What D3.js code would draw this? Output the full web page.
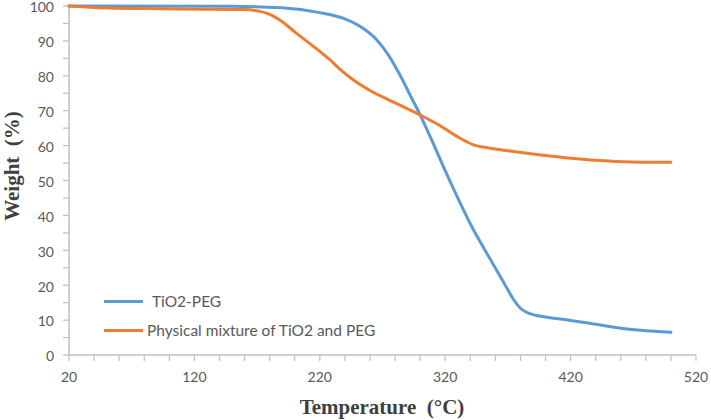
<!DOCTYPE html>
<html>
<head>
<meta charset="utf-8">
<script src="https://cdn.jsdelivr.net/npm/d3@7"></script>
<style>
  body { margin: 0; background: #fff; }
  svg { display: block; }
</style>
</head>
<body>
<svg id="chart" width="711" height="420"></svg>
<script>
// TGA curves, values
const tempPeg = [20, 150, 190, 220, 240, 255, 265, 275, 285, 292, 300, 310, 320, 330, 340, 356, 366, 374, 380, 385, 392, 400, 420, 440, 467, 500];
const weightPeg = [100, 99.9, 99.5, 98.1, 96.3, 93.5, 90.5, 85.8, 79.5, 74.5, 68.8, 61, 52.8, 45, 37.6, 27.4, 21.2, 16.2, 13.4, 12.2, 11.4, 10.9, 9.9, 8.8, 7.4, 6.5];

const tempMix = [20, 40, 90, 160, 170, 180, 190, 200, 210, 220, 228, 236, 246, 260, 278, 300, 316, 330, 342, 355, 370, 396, 436, 462, 500];
const weightMix = [100, 99.6, 99.2, 99.0, 98.6, 97.6, 95.5, 92.6, 89.8, 87, 84.6, 81.9, 79, 75.8, 72.6, 68.8, 65.7, 62.5, 60.3, 59.3, 58.5, 57.3, 55.9, 55.4, 55.2];

const seriesNames = ["TiO2-PEG", "Physical mixture of TiO2 and PEG"];
const seriesColors = ["#5b9bd5", "#ed7d31"];

const xTicks = [20, 120, 220, 320, 420, 520];
const yTicks = [0, 10, 20, 30, 40, 50, 60, 70, 80, 90, 100];

const svg = d3.select("#chart");
const plot = { left: 69, right: 696, top: 6, bottom: 355 };

const x = d3.scaleLinear().domain([20, 520]).range([plot.left, plot.right]);
const y = d3.scaleLinear().domain([0, 100]).range([plot.bottom, plot.top]);

const axisColor = "#bfbfbf";
const labelColor = "#595959";
const tickFont = "Lato, 'Open Sans', sans-serif";

// x axis: major ticks every 100, minor every 20, all pointing down
const xAxis = svg.append("g").attr("transform", `translate(0,${plot.bottom})`);
xAxis.append("line")
  .attr("x1", plot.left).attr("x2", plot.right)
  .attr("stroke", axisColor).attr("stroke-width", 1.5);
xAxis.selectAll("line.tick")
  .data(d3.range(20, 521, 20))
  .join("line")
  .attr("class", "tick")
  .attr("x1", d => x(d)).attr("x2", d => x(d))
  .attr("y1", 0).attr("y2", 6)
  .attr("stroke", axisColor).attr("stroke-width", 1.2);
xAxis.selectAll("text")
  .data(xTicks)
  .join("text")
  .attr("x", d => x(d))
  .attr("y", 27)
  .attr("text-anchor", "middle")
  .attr("fill", labelColor)
  .style("font-family", tickFont)
  .style("font-size", "14px")
  .text(d => d);

// y axis: major ticks every 10, minor every 5
const yAxis = svg.append("g").attr("transform", `translate(${plot.left},0)`);
yAxis.append("line")
  .attr("y1", plot.top).attr("y2", plot.bottom)
  .attr("stroke", axisColor).attr("stroke-width", 1.5);
yAxis.selectAll("line.tick")
  .data(d3.range(0, 101, 5))
  .join("line")
  .attr("class", "tick")
  .attr("x1", -6).attr("x2", 0)
  .attr("y1", d => y(d)).attr("y2", d => y(d))
  .attr("stroke", axisColor).attr("stroke-width", 1.2);
yAxis.selectAll("text")
  .data(yTicks)
  .join("text")
  .attr("x", -15)
  .attr("y", d => y(d))
  .attr("dy", "0.45em")
  .attr("text-anchor", "end")
  .attr("fill", labelColor)
  .style("font-family", tickFont)
  .style("font-size", "14px")
  .text(d => d);

// axis titles
svg.append("text")
  .attr("x", 382)
  .attr("y", 414)
  .attr("text-anchor", "middle")
  .attr("fill", "#404040")
  .style("font-family", "'Liberation Serif', 'Times New Roman', serif")
  .style("font-weight", "bold")
  .style("font-size", "21px")
  .style("white-space", "pre")
  .text("Temperature  (°C)");

svg.append("text")
  .attr("transform", "translate(19,166) rotate(-90)")
  .attr("text-anchor", "middle")
  .attr("fill", "#404040")
  .style("font-family", "'Liberation Serif', 'Times New Roman', serif")
  .style("font-weight", "bold")
  .style("font-size", "21px")
  .style("white-space", "pre")
  .text("Weight  (%)");

// curves
const line = d3.line()
  .x(d => x(d[0]))
  .y(d => y(d[1]))
  .curve(d3.curveMonotoneX);

const series = [
  d3.zip(tempPeg, weightPeg),
  d3.zip(tempMix, weightMix)
];

svg.selectAll("path.curve")
  .data(series)
  .join("path")
  .attr("class", "curve")
  .attr("d", line)
  .attr("fill", "none")
  .attr("stroke", (d, i) => seriesColors[i])
  .attr("stroke-width", 3)
  .attr("stroke-linecap", "round");

// legend
const legend = svg.append("g");
const legendRows = [
  { y: 301.5, textX: 152 },
  { y: 330.5, textX: 147 }
];
legend.selectAll("line")
  .data(seriesNames)
  .join("line")
  .attr("x1", 104).attr("x2", 143)
  .attr("y1", (d, i) => legendRows[i].y).attr("y2", (d, i) => legendRows[i].y)
  .attr("stroke", (d, i) => seriesColors[i])
  .attr("stroke-width", 3);
legend.selectAll("text")
  .data(seriesNames)
  .join("text")
  .attr("x", (d, i) => legendRows[i].textX)
  .attr("y", (d, i) => legendRows[i].y)
  .attr("dy", "0.36em")
  .attr("fill", labelColor)
  .style("font-family", tickFont)
  .style("font-size", "15.5px")
  .text(d => d);
</script>
</body>
</html>
